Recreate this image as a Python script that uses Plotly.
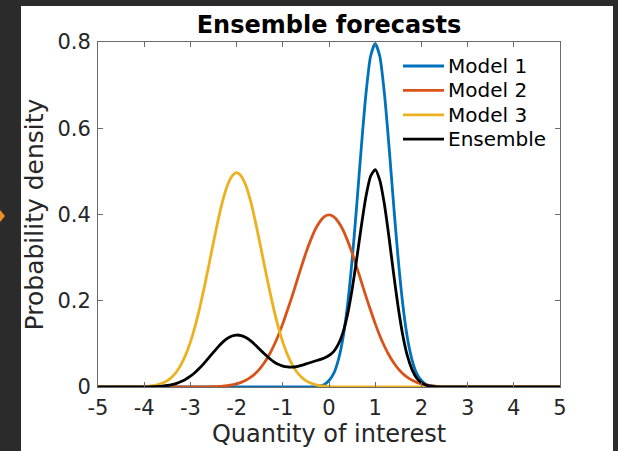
import plotly.graph_objects as go

# ---------------- data ----------------
x_vals = [
    -5.0, -4.9, -4.8, -4.7, -4.6, -4.5, -4.4, -4.3, -4.2, -4.1,
    -4.0, -3.9, -3.8, -3.7, -3.6, -3.5, -3.4, -3.3, -3.2, -3.1,
    -3.0, -2.9, -2.8, -2.7, -2.6, -2.5, -2.4, -2.3, -2.2, -2.1,
    -2.0, -1.9, -1.8, -1.7, -1.6, -1.5, -1.4, -1.3, -1.2, -1.1,
    -1.0, -0.9, -0.8, -0.7, -0.6, -0.5, -0.4, -0.3, -0.2, -0.1,
    0.0, 0.1, 0.2, 0.3, 0.4, 0.5, 0.6, 0.7, 0.8, 0.9,
    1.0, 1.1, 1.2, 1.3, 1.4, 1.5, 1.6, 1.7, 1.8, 1.9,
    2.0, 2.1, 2.2, 2.3, 2.4, 2.5, 2.6, 2.7, 2.8, 2.9,
    3.0, 3.1, 3.2, 3.3, 3.4, 3.5, 3.6, 3.7, 3.8, 3.9,
    4.0, 4.1, 4.2, 4.3, 4.4, 4.5, 4.6, 4.7, 4.8, 4.9,
    5.0,
]

model1 = [
    0, 0, 0, 0, 0, 0, 0, 0, 0, 0,
    0, 0, 0, 0, 0, 0, 0, 0, 0, 0,
    0, 0, 0, 0, 0, 0, 0, 0, 0, 0,
    0, 0, 0, 0, 0, 0, 0, 0, 0, 0,
    0, 0, 0, 0, 0, 0, 0.0003, 0.0009, 0.0025, 0.006,
    0.015, 0.031, 0.062, 0.112, 0.189, 0.294, 0.421, 0.557, 0.680, 0.767,
    0.796, 0.767, 0.680, 0.557, 0.421, 0.294, 0.189, 0.112, 0.062, 0.031,
    0.015, 0.006, 0.0025, 0.0009, 0.0003, 0, 0, 0, 0, 0,
    0, 0, 0, 0, 0, 0, 0, 0, 0, 0,
    0, 0, 0, 0, 0, 0, 0, 0, 0, 0,
    0,
]

model2 = [
    0, 0, 0, 0, 0, 0, 0, 0, 0, 0,
    0, 0, 0, 0, 0, 0, 0, 0, 0, 0,
    0, 0.0001, 0.0002, 0.0003, 0.0005, 0.0008, 0.0013, 0.0020, 0.0032, 0.0049,
    0.0073, 0.0108, 0.0156, 0.0222, 0.0308, 0.0421, 0.0562, 0.0736, 0.0945, 0.119,
    0.147, 0.178, 0.210, 0.244, 0.278, 0.311, 0.340, 0.365, 0.383, 0.395,
    0.399, 0.395, 0.383, 0.365, 0.340, 0.311, 0.278, 0.244, 0.210, 0.178,
    0.147, 0.119, 0.0945, 0.0736, 0.0562, 0.0421, 0.0308, 0.0222, 0.0156, 0.0108,
    0.0073, 0.0049, 0.0032, 0.0020, 0.0013, 0.0008, 0.0005, 0.0003, 0.0002, 0.0001,
    0, 0, 0, 0, 0, 0, 0, 0, 0, 0,
    0, 0, 0, 0, 0, 0, 0, 0, 0, 0,
    0,
]

model3 = [
    0, 0, 0, 0, 0, 0, 0.0001, 0.0001, 0.0003, 0.0005,
    0.0010, 0.0018, 0.0031, 0.0054, 0.0091, 0.0148, 0.0232, 0.0354, 0.0524, 0.075,
    0.104, 0.140, 0.183, 0.231, 0.283, 0.336, 0.387, 0.432, 0.467, 0.489,
    0.497, 0.489, 0.467, 0.432, 0.387, 0.336, 0.283, 0.231, 0.183, 0.140,
    0.104, 0.075, 0.0524, 0.0354, 0.0232, 0.0148, 0.0091, 0.0054, 0.0031, 0.0018,
    0.0010, 0.0005, 0.0003, 0.0001, 0.0001, 0, 0, 0, 0, 0,
    0, 0, 0, 0, 0, 0, 0, 0, 0, 0,
    0, 0, 0, 0, 0, 0, 0, 0, 0, 0,
    0, 0, 0, 0, 0, 0, 0, 0, 0, 0,
    0, 0, 0, 0, 0, 0, 0, 0, 0, 0,
    0,
]

ensemble = [
    0, 0, 0, 0, 0, 0, 0, 0, 0.0001, 0.0001,
    0.0002, 0.0004, 0.0007, 0.0013, 0.0022, 0.0036, 0.0056, 0.0085, 0.0126, 0.018,
    0.025, 0.0336, 0.0439, 0.0555, 0.068, 0.0807, 0.0931, 0.104, 0.1126, 0.1182,
    0.1205, 0.1191, 0.1146, 0.1073, 0.0978, 0.0873, 0.0769, 0.0672, 0.059, 0.0526,
    0.0485, 0.0465, 0.0462, 0.0475, 0.0501, 0.0535, 0.0568, 0.0602, 0.0635, 0.0672,
    0.073, 0.0819, 0.0986, 0.1256, 0.1678, 0.2262, 0.2971, 0.3732, 0.4416, 0.4887,
    0.5040, 0.4792, 0.4231, 0.346, 0.2616, 0.1831, 0.1183, 0.0708, 0.0397, 0.0203,
    0.0102, 0.0044, 0.002, 0.0008, 0.0004, 0.0002, 0.0001, 0, 0, 0,
    0, 0, 0, 0, 0, 0, 0, 0, 0, 0,
    0, 0, 0, 0, 0, 0, 0, 0, 0, 0,
    0,
]

series_names = ["Model 1", "Model 2", "Model 3", "Ensemble"]
series_colors = ["#0072BD", "#D95319", "#EDB120", "#000000"]

x_tick_vals = [-5, -4, -3, -2, -1, 0, 1, 2, 3, 4, 5]
x_tick_text = ["-5", "-4", "-3", "-2", "-1", "0", "1", "2", "3", "4", "5"]
y_tick_vals = [0, 0.2, 0.4, 0.6, 0.8]
y_tick_text = ["0", "0.2", "0.4", "0.6", "0.8"]

# ---------------- figure ----------------
W, H = 618, 451
ML, MR, MT, MB = 98, 58, 42, 64
PW, PH = W - ML - MR, H - MT - MB


def px_to_paper_x(px):
    return (px - ML) / PW


def px_to_paper_y(py):
    return (H - MB - py) / PH


font_family = "DejaVu Sans"
LINE_W = 2.8
fig = go.Figure()
for name, color, ys in zip(series_names, series_colors,
                           [model1, model2, model3, ensemble]):
    fig.add_trace(go.Scatter(
        x=x_vals, y=ys, mode="lines", name=name, showlegend=False,
        line=dict(color=color, width=LINE_W, shape="spline", smoothing=0.6),
    ))

axis_common = dict(
    showgrid=False, zeroline=False, showline=True, linecolor="#6b6b6b",
    linewidth=1, mirror="ticks", ticks="inside", ticklen=5,
    tickcolor="#6b6b6b", tickwidth=1, automargin=False,
    tickfont=dict(family=font_family, size=21, color="#262626"),
)

fig.update_layout(
    width=W, height=H,
    margin=dict(l=ML, r=MR, t=MT, b=MB, pad=0),
    paper_bgcolor="#2b2b2b",
    plot_bgcolor="white",
    font=dict(family=font_family, color="#262626"),
    title=dict(text="<b>Ensemble forecasts</b>", x=0.5 * (ML + W - MR) / W,
               xanchor="center", y=1 - 25 / H, yanchor="middle",
               yref="container",
               font=dict(family=font_family, size=24, color="#000000")),
    xaxis=dict(range=[-5, 5], tickvals=x_tick_vals, ticktext=x_tick_text,
               ticklabelstandoff=2,
               title=dict(text="Quantity of interest", standoff=4,
                          font=dict(family=font_family, size=24, color="#262626")),
               **axis_common),
    yaxis=dict(range=[0, 0.8], tickvals=y_tick_vals, ticktext=y_tick_text,
               ticklabelstandoff=2,
               title=dict(text="Probability density", standoff=6,
                          font=dict(family=font_family, size=25, color="#262626")),
               **axis_common),
    showlegend=False,
)

# legend drawn as line samples + text labels inside the top-right of the axes
legend_rows_px = [66, 90.4, 114.8, 139.2]
for name, color, ry in zip(series_names, series_colors, legend_rows_px):
    yp = px_to_paper_y(ry)
    fig.add_shape(type="line", xref="paper", yref="paper",
                  x0=px_to_paper_x(403), x1=px_to_paper_x(444), y0=yp, y1=yp,
                  line=dict(color=color, width=LINE_W))
    fig.add_annotation(xref="paper", yref="paper", x=px_to_paper_x(446), y=yp,
                       text=name, showarrow=False, xanchor="left",
                       yanchor="middle", xshift=0,
                       font=dict(family=font_family, size=20, color="#000000"))

# white figure panel behind the axes (the dark frame around it is page background)
fig.add_shape(type="rect", xref="paper", yref="paper",
              x0=px_to_paper_x(21), x1=px_to_paper_x(613),
              y0=px_to_paper_y(H + 5), y1=px_to_paper_y(6),
              fillcolor="white", line=dict(width=0), layer="below")

# small orange pointer on the left edge
ax0, ax1 = px_to_paper_x(0), px_to_paper_x(5)
ay0, ay1, aym = px_to_paper_y(210), px_to_paper_y(222), px_to_paper_y(216)
fig.add_shape(type="path", xref="paper", yref="paper",
              path=f"M {ax0} {ay0} L {ax1} {aym} L {ax0} {ay1} Z",
              fillcolor="#F0901E", line=dict(width=0), layer="above")

fig.write_html("out.html")
